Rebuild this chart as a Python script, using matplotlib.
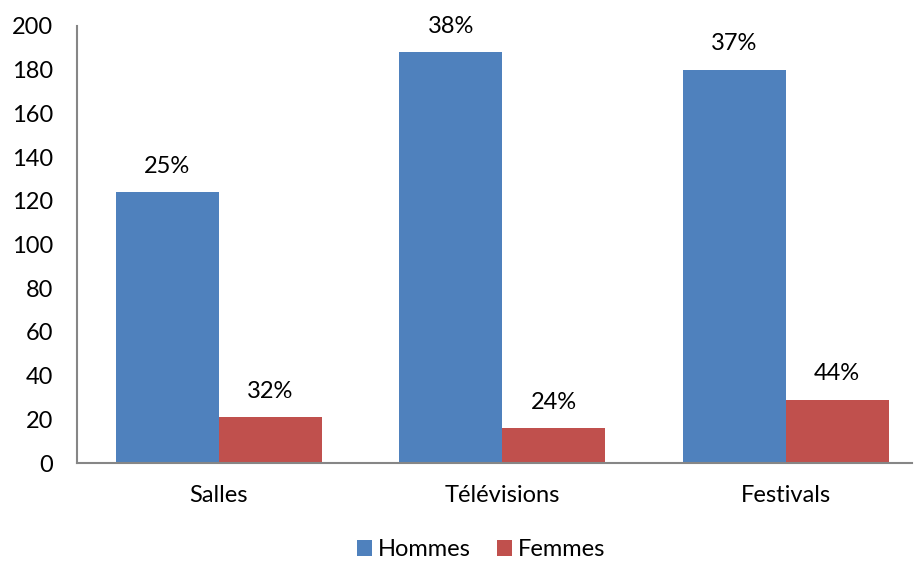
import numpy as np
import matplotlib.pyplot as plt

plt.rcParams['font.family'] = ['Lato', 'DejaVu Sans']

categories = ['Salles', 'Télévisions', 'Festivals']
hommes = [124, 188, 180]
femmes = [21, 16, 29]
hommes_pct = ['25%', '38%', '37%']
femmes_pct = ['32%', '24%', '44%']

blue = '#4F81BD'
red = '#C0504D'
fs = 17

fig = plt.figure(figsize=(9.14, 5.62), dpi=100)
ax = fig.add_axes([0.0842, 0.176, 0.914, 0.778])

x = np.arange(len(categories))
w = 0.363
b1 = ax.bar(x - w / 2, hommes, w, color=blue, label='Hommes')
b2 = ax.bar(x + w / 2, femmes, w, color=red, label='Femmes')

for bars, labels in [(b1, hommes_pct), (b2, femmes_pct)]:
    for rect, lab in zip(bars, labels):
        ax.annotate(lab, (rect.get_x() + rect.get_width() / 2, rect.get_height()),
                    xytext=(0, 11), textcoords='offset points',
                    ha='center', va='bottom', fontsize=fs)

ax.set_xlim(-0.5, 2.447)
ax.set_ylim(0, 200)
ax.set_yticks(range(0, 201, 20))
ax.set_xticks(x)
ax.set_xticklabels(categories)
ax.tick_params(axis='both', length=0, labelsize=fs)
ax.tick_params(axis='x', pad=16)
ax.tick_params(axis='y', pad=17)

for s in ['top', 'right']:
    ax.spines[s].set_visible(False)
for s in ['left', 'bottom']:
    ax.spines[s].set_color('#868686')
    ax.spines[s].set_linewidth(1.5)

ax.legend(loc='center', bbox_to_anchor=(0.484, -0.198), ncol=2, frameon=False,
          fontsize=fs, handlelength=0.65, handleheight=0.65, handletextpad=0.25,
          columnspacing=1.1)

fig.savefig('out.png', dpi=100)
